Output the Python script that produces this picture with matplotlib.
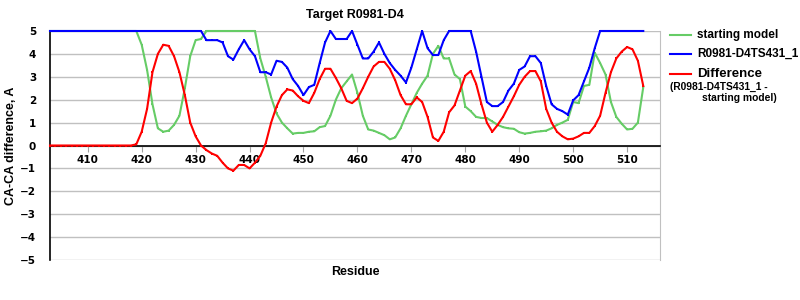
"""
CA-CA difference plot for target R0981-D4.
"""
import matplotlib
matplotlib.use("Agg")
import matplotlib.pyplot as plt
from matplotlib.lines import Line2D

residues = list(range(403, 514))

starting_model = (
    [5.0] * 17
    + [4.4, 3.3, 1.8, 0.75, 0.6, 0.65, 0.9, 1.3, 2.5, 3.9, 4.6, 4.65]
    + [5.0] * 10
    + [3.8, 3.0, 2.1, 1.4, 1.0, 0.75, 0.52, 0.55, 0.55, 0.6, 0.62, 0.8, 0.85,
       1.3, 2.0, 2.5, 2.8, 3.1, 2.3, 1.3, 0.7, 0.65, 0.55, 0.45, 0.27, 0.35,
       0.75, 1.3, 1.8, 2.3, 2.7, 3.05, 4.0, 4.35, 3.8, 3.8, 3.1, 2.9, 1.7, 1.5,
       1.25, 1.2, 1.2, 1.05, 0.9, 0.8, 0.75, 0.73, 0.58, 0.52, 0.55, 0.6, 0.62,
       0.65, 0.75, 0.9, 1.0, 1.12, 1.9, 1.85, 2.6, 2.65, 4.05, 3.6, 3.1, 1.9,
       1.25, 0.95, 0.7, 0.73, 1.0, 2.55]
)

model_431 = (
    [5.0] * 29
    + [4.6, 4.6, 4.6, 4.5, 3.9, 3.75, 4.2, 4.6, 4.2, 3.9, 3.2, 3.2, 3.1, 3.7,
       3.65, 3.4, 2.9, 2.6, 2.2, 2.55, 2.65, 3.6, 4.5, 5.0, 4.65, 4.65, 4.65,
       5.0, 4.4, 3.8, 3.8, 4.1, 4.5, 4.0, 3.6, 3.3, 3.05, 2.75, 3.4, 4.2, 5.0,
       4.25, 3.95, 3.95, 4.6]
    + [5.0] * 5
    + [4.1, 3.0, 1.9, 1.72, 1.72, 1.9, 2.4, 2.7, 3.3, 3.45, 3.9, 3.9, 3.6, 2.6,
       1.8, 1.6, 1.5, 1.35, 1.97, 2.2, 2.8, 3.4, 4.25]
    + [5.0] * 9
)

difference = (
    [0.0] * 16
    + [0.05, 0.6, 1.6, 3.2, 4.0, 4.4, 4.35, 3.9, 3.2, 2.2, 1.0, 0.4, 0.0, -0.2,
       -0.35, -0.45, -0.75, -1.0, -1.1, -0.85, -0.85, -1.0, -0.75, -0.45, 0.1,
       1.0, 1.7, 2.2, 2.45, 2.4, 2.15, 1.95, 1.85, 2.3, 2.9, 3.35, 3.35, 2.95,
       2.5, 1.95, 1.85, 2.05, 2.5, 3.0, 3.45, 3.65, 3.65, 3.35, 2.85, 2.2, 1.8,
       1.8, 2.1, 1.9, 1.25, 0.35, 0.2, 0.6, 1.45, 1.75, 2.4, 3.05, 3.25, 2.7,
       1.8, 1.0, 0.6, 0.9, 1.25, 1.7, 2.15, 2.65, 3.0, 3.25, 3.25, 2.8, 1.6,
       1.0, 0.6, 0.4, 0.27, 0.3, 0.4, 0.55, 0.55, 0.85, 1.3, 2.3, 3.2, 3.8,
       4.1, 4.3, 4.2, 3.7, 2.6]
)

x_ticks = list(range(410, 520, 10))
y_ticks = list(range(-5, 6))

GREEN = "#66CC66"
BLUE = "#0000FF"
RED = "#FF0000"
LABEL_FONT = "Liberation Sans"

fig = plt.figure(figsize=(8, 3), dpi=100)
ax = fig.add_axes([0.0625, 0.1333, 0.7625, 0.7634])

series = [
    (starting_model, GREEN),
    (model_431, BLUE),
    (difference, RED),
]
for values, color in series:
    ax.plot(residues, values, color=color, linewidth=1.5, clip_on=False,
            marker="s", markersize=1.8, markeredgewidth=0, zorder=3)

ax.set_xlim(403, 516.1)
ax.set_ylim(-5, 5)
ax.set_xticks(x_ticks)
ax.set_yticks(y_ticks)
ax.set_yticklabels([str(v).replace("-", "\u2212") for v in y_ticks])

ax.grid(True, axis="y", color="#C0C0C0", linewidth=1)
ax.set_axisbelow(True)

ax.spines["top"].set_visible(False)
ax.spines["right"].set_color("#C0C0C0")
ax.spines["left"].set_color("black")
ax.spines["bottom"].set_position(("data", 0))
ax.spines["bottom"].set_color("black")
ax.spines["bottom"].set_linewidth(1.2)
ax.spines["left"].set_linewidth(1.2)

ax.tick_params(axis="x", length=4, color="#A0A0A0", pad=3, labelsize=7.5)
ax.tick_params(axis="y", length=0, pad=10, labelsize=7.5)
for lbl in ax.get_xticklabels() + ax.get_yticklabels():
    lbl.set_fontweight("bold")

ax.set_title("Target R0981-D4", fontsize=9, fontweight="bold",
             family=LABEL_FONT, pad=9)
ax.set_ylabel("CA-CA difference, A", fontsize=9, fontweight="bold",
              family=LABEL_FONT)
ax.yaxis.set_label_coords(-0.054, 0.5)
ax.set_xlabel("Residue", fontsize=9, fontweight="bold", family=LABEL_FONT)
ax.xaxis.set_label_coords(0.5, -0.025)

# legend drawn by hand to get the two-line caption under "Difference"
legend_rows = [
    (0.884, GREEN, "starting model", 8.5),
    (0.820, BLUE, "R0981-D4TS431_1", 8.5),
    (0.752, RED, "Difference", 9.5),
]
for y, color, label, size in legend_rows:
    fig.add_artist(Line2D([0.8375, 0.8635], [y, y], color=color,
                          linewidth=1.5, transform=fig.transFigure))
    fig.text(0.871, y, label, fontsize=size, fontweight="bold",
             family=LABEL_FONT, va="center", ha="left")
fig.text(0.8375, 0.711, "(R0981-D4TS431_1 -", fontsize=7.4,
         fontweight="bold", family=LABEL_FONT, va="center", ha="left")
fig.text(0.877, 0.674, "starting model)", fontsize=7.4,
         fontweight="bold", family=LABEL_FONT, va="center", ha="left")

fig.savefig("out.png", dpi=100)
